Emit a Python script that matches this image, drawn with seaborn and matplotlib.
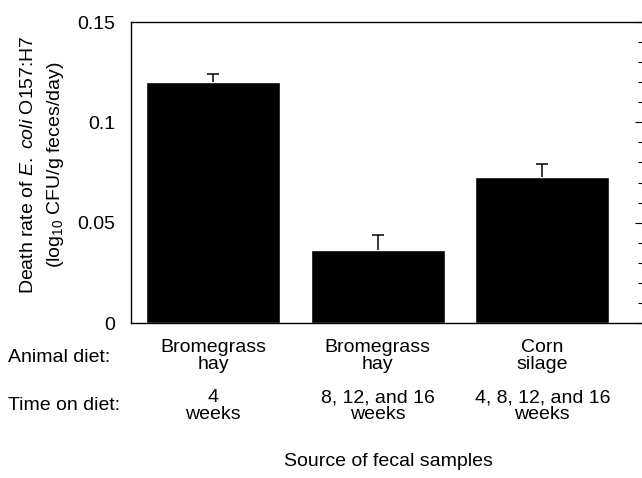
import numpy as np
import pandas as pd
import matplotlib
matplotlib.use("Agg")
import matplotlib.pyplot as plt
import matplotlib.transforms as mtransforms
from matplotlib.ticker import MultipleLocator
import seaborn as sns

# -------------------------------
# Data
# -------------------------------
diets = ["Bromegrass\nhay", "Bromegrass\nhay ", "Corn\nsilage"]
times = ["4\nweeks", "8, 12, and 16\nweeks", "4, 8, 12, and 16\nweeks"]
death_rate = [0.120, 0.0364, 0.0728]
death_err = [0.0040, 0.0075, 0.0065]

sns.set_style("white")
plt.rcParams['font.family'] = ['Liberation Sans', 'DejaVu Sans']
plt.rcParams['mathtext.fontset'] = 'custom'
plt.rcParams['mathtext.rm'] = 'Liberation Sans'
plt.rcParams['mathtext.it'] = 'Liberation Sans:italic'
plt.rcParams['text.color'] = 'black'
plt.rcParams['axes.labelcolor'] = 'black'
plt.rcParams['ytick.color'] = 'black'
plt.rcParams['xtick.color'] = 'black'

FS = 14

df = pd.DataFrame({"diet": diets, "rate": death_rate})

fig = plt.figure(figsize=(6.42, 4.78), dpi=100)
ax = fig.add_axes([131 / 642, 1 - 323 / 478, 1 - 131 / 642, (323 - 22) / 478])

sns.barplot(data=df, x="diet", y="rate", color="black", width=0.815,
            saturation=1, errorbar=None, ax=ax)
eb = ax.errorbar(np.arange(len(death_rate)), death_rate,
                 yerr=[np.zeros(len(death_err)), death_err],
                 fmt="none", ecolor="black", elinewidth=1.1, capsize=4, capthick=1.1)
# only the upper cap is drawn in the original
eb[1][0].set_visible(False)

ax.set_xlim(-0.5, 2.606)
ax.set_ylim(0, 0.15)
ax.yaxis.set_minor_locator(MultipleLocator(0.01))
ax.set_yticks([0, 0.05, 0.1, 0.15])
ax.set_yticklabels(["0", "0.05", "0.1", "0.15"])
ax.tick_params(axis="y", which="major", direction="in", length=5, width=0.8,
               right=True, labelsize=FS, pad=11.5)
ax.tick_params(axis="y", which="minor", direction="in", length=3, width=0.8, right=True)
ax.set_xticks([])
ax.set_xlabel("")

for s in ["left", "top", "bottom"]:
    ax.spines[s].set_visible(True)
    ax.spines[s].set_color("black")
    ax.spines[s].set_linewidth(1.0)
ax.spines["right"].set_visible(False)

ax.set_ylabel("Death rate of $\\it{E.\\ coli}$ O157:H7\n(log$_{10}$ CFU/g feces/day)",
              fontsize=FS, linespacing=1.55)
ax.yaxis.set_label_coords(-0.127, 0.525)

# category rows under the axis
trans = mtransforms.blended_transform_factory(ax.transData, fig.transFigure)
for i, (d, t) in enumerate(zip(diets, times)):
    ax.text(i, 1 - 356 / 478, d.strip(), transform=trans, ha="center", va="center",
            fontsize=FS, linespacing=0.98)
    ax.text(i, 1 - 406 / 478, t, transform=trans, ha="center", va="center",
            fontsize=FS, linespacing=0.98)

fig.text(8 / 642, 1 - 357 / 478, "Animal diet:", ha="left", va="center", fontsize=FS)
fig.text(8 / 642, 1 - 405 / 478, "Time on diet:", ha="left", va="center", fontsize=FS)
fig.text(388 / 642, 1 - 462 / 478, "Source of fecal samples", ha="center", va="center",
         fontsize=FS)

plt.savefig("out.png", dpi=100)
